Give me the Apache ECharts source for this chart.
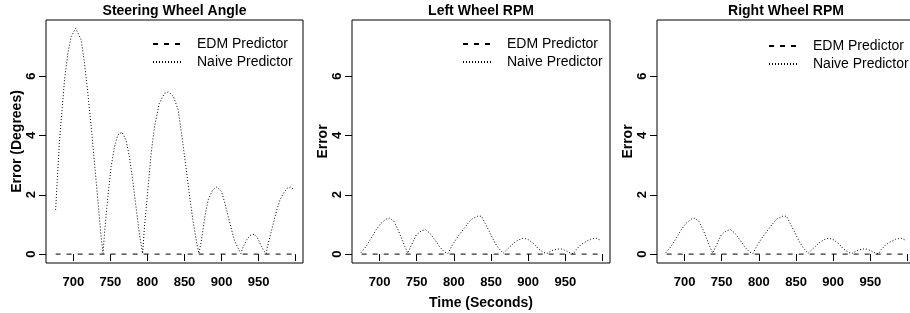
<!DOCTYPE html>
<html>
<head>
<meta charset="utf-8">
<title>EDM vs Naive Predictor error</title>
<script src="https://cdn.jsdelivr.net/npm/echarts@6/dist/echarts.min.js"></script>
<style>
  html, body { margin: 0; padding: 0; background: #fff; }
  #chart { width: 910px; height: 313px; }
</style>
</head>
<body>
<div id="chart"></div>
<script>
// panel titles and y axis names
const panelTitles = ['Steering Wheel Angle', 'Left Wheel RPM', 'Right Wheel RPM']
const yNames = ['Error (Degrees)', 'Error', 'Error']
const xTicks = [700, 750, 800, 850, 900, 950, 1000]
const xLabels = [700, 750, 800, 850, 900, 950]
const yTicks = [0, 2, 4, 6]

// EDM predictor error (flat at zero over the whole run)
const edmTime = [676, 997]
const edmError = [0, 0]

// naive predictor, steering wheel angle (degrees)
const steerTime = [
  676, 679, 681, 683.5, 688, 692.5, 697, 703, 710.5, 715, 719.5, 724, 728.5, 733, 736.5, 740,
  742, 746.5, 751, 755.5, 760, 765.5, 771, 775.5, 780, 784.5, 789, 793.5,
  796, 800.5, 805, 809.5, 816, 823, 828.5, 835, 841.5, 847.5, 853, 857.5, 862, 866.5, 869.5,
  873, 877.5, 882, 888, 893.5, 900, 904.5, 909, 913.5, 918, 926,
  929.5, 934, 938.5, 944, 948, 953, 957.5, 960.5,
  962, 965.5, 970, 974.5, 979, 983.5, 988.5, 993, 997
]
const steerNaive = [
  1.49, 2.84, 3.74, 4.52, 5.87, 6.77, 7.33, 7.61, 7.22, 6.43, 5.42, 4.30, 3.06, 1.83, 0.82, 0.02,
  0.70, 1.94, 2.95, 3.62, 4.02, 4.11, 3.85, 3.29, 2.50, 1.60, 0.70, 0.02,
  0.93, 2.16, 3.40, 4.30, 5.08, 5.42, 5.47, 5.31, 4.86, 3.79, 2.73, 1.83, 1.04, 0.37, 0.02,
  0.48, 1.27, 1.83, 2.16, 2.26, 2.11, 1.72, 1.27, 0.82, 0.42, 0.02,
  0.26, 0.48, 0.63, 0.67, 0.57, 0.31, 0.09, 0.02,
  0.26, 0.59, 1.04, 1.49, 1.83, 2.05, 2.22, 2.26, 2.19
]

// naive predictor, wheel RPM
const wheelTime = [
  675, 682, 689, 695.5, 702, 709, 713.5, 719.5, 725, 729.5, 734, 738,
  743, 749.5, 756.5, 762, 767.5, 774.5, 781, 787, 792,
  797, 804, 810.5, 817.5, 824, 833, 837.5, 842, 846.5, 851, 855.5, 860, 866.5,
  873.5, 880.5, 887, 894, 900.5, 907.5, 914, 921, 925,
  932, 939, 945, 950, 957, 961,
  964, 970.5, 977.5, 984, 991, 997
]
const leftNaive = [
  0.05, 0.26, 0.54, 0.82, 1.04, 1.18, 1.21, 1.10, 0.82, 0.54, 0.26, 0.03,
  0.31, 0.65, 0.79, 0.82, 0.71, 0.48, 0.24, 0.08, 0.02,
  0.26, 0.54, 0.76, 0.99, 1.18, 1.29, 1.27, 1.04, 0.82, 0.59, 0.37, 0.20, 0.03,
  0.20, 0.37, 0.48, 0.54, 0.48, 0.35, 0.17, 0.05, 0.02,
  0.12, 0.17, 0.17, 0.12, 0.03, 0.01,
  0.14, 0.31, 0.42, 0.50, 0.54, 0.47
]
const rightNaive = [
  0.05, 0.26, 0.54, 0.82, 1.04, 1.18, 1.21, 1.10, 0.82, 0.54, 0.26, 0.03,
  0.31, 0.65, 0.79, 0.82, 0.71, 0.48, 0.24, 0.08, 0.02,
  0.26, 0.54, 0.76, 0.99, 1.18, 1.29, 1.27, 1.04, 0.82, 0.59, 0.37, 0.20, 0.03,
  0.20, 0.37, 0.48, 0.54, 0.48, 0.35, 0.17, 0.05, 0.02,
  0.12, 0.17, 0.17, 0.12, 0.03, 0.01,
  0.14, 0.31, 0.42, 0.50, 0.54, 0.47
]

const font = "'Liberation Sans', Arial, Helvetica, sans-serif"
const zip = (xs, ys) => xs.map((x, i) => [x, ys[i]])

const panels = [
  { left: 46, width: 257, legendLeft: 152, legendTop: 37, naive: zip(steerTime, steerNaive) },
  { left: 352, width: 258, legendLeft: 462, legendTop: 37, naive: zip(wheelTime, leftNaive) },
  { left: 657, width: 258, legendLeft: 768, legendTop: 39, naive: zip(wheelTime, rightNaive) }
]

const chart = echarts.init(document.getElementById('chart'), null, { renderer: 'canvas' })

const option = {
  animation: false,
  backgroundColor: '#fff',
  textStyle: { fontFamily: font, color: '#000' },
  title: [],
  legend: [],
  grid: [],
  xAxis: [],
  yAxis: [],
  series: []
}

panels.forEach((p, i) => {
  option.title.push({
    text: panelTitles[i],
    left: p.left + p.width / 2,
    top: 4,
    padding: 0,
    textAlign: 'center',
    textStyle: { fontFamily: font, fontSize: 14, fontWeight: 'bold', color: '#000' }
  })
  option.legend.push({
    data: ['EDM Predictor', 'Naive Predictor'],
    orient: 'vertical',
    left: p.legendLeft,
    top: p.legendTop,
    padding: 0,
    itemWidth: 28,
    itemHeight: 14,
    itemGap: 4,
    selectedMode: false,
    itemStyle: { opacity: 0 },
    textStyle: { fontFamily: font, fontSize: 14, color: '#000', padding: [0, 0, 0, 11] }
  })
  option.grid.push({
    left: p.left,
    top: 20,
    width: p.width,
    height: 243,
    show: true,
    borderColor: '#000',
    borderWidth: 1,
    backgroundColor: 'transparent',
    outerBoundsMode: 'none',
    containLabel: false
  })
  option.xAxis.push({
    type: 'value',
    gridIndex: i,
    min: 663,
    max: 1010,
    name: i === 1 ? 'Time (Seconds)' : '',
    nameLocation: 'middle',
    nameGap: 33,
    nameTextStyle: { fontFamily: font, fontSize: 14, fontWeight: 'bold', color: '#000' },
    axisLine: { show: false },
    axisTick: { show: true, length: 7, customValues: xTicks, lineStyle: { color: '#000' } },
    axisLabel: {
      customValues: xLabels,
      margin: 13,
      fontFamily: font,
      fontSize: 13,
      fontWeight: 'bold',
      color: '#000'
    },
    splitLine: { show: false }
  })
  option.yAxis.push({
    type: 'value',
    gridIndex: i,
    min: -0.3,
    max: 7.89,
    name: yNames[i],
    nameLocation: 'middle',
    nameRotate: 90,
    nameGap: 22,
    nameTextStyle: { fontFamily: font, fontSize: 14, fontWeight: 'bold', color: '#000' },
    axisLine: { show: false },
    axisTick: { show: true, length: 7, customValues: yTicks, lineStyle: { color: '#000' } },
    axisLabel: {
      customValues: yTicks,
      rotate: 90,
      margin: 8,
      fontFamily: font,
      fontSize: 13,
      fontWeight: 'bold',
      color: '#000'
    },
    splitLine: { show: false }
  })
  option.series.push({
    name: 'EDM Predictor',
    type: 'line',
    xAxisIndex: i,
    yAxisIndex: i,
    symbol: 'none',
    color: '#000',
    lineStyle: { color: '#000', width: 1, type: [5, 6] },
    data: zip(edmTime, edmError)
  })
  option.series.push({
    name: 'Naive Predictor',
    type: 'line',
    xAxisIndex: i,
    yAxisIndex: i,
    symbol: 'none',
    color: '#000',
    lineStyle: { color: '#000', width: 1, type: [1, 2] },
    data: p.naive
  })
})

chart.setOption(option)
</script>
</body>
</html>
